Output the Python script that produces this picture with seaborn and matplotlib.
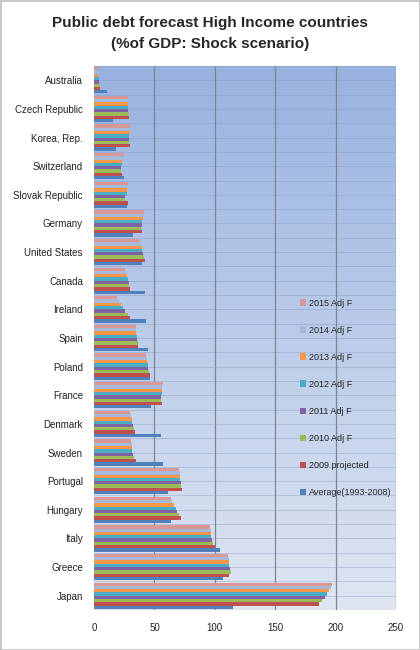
import numpy as np
import pandas as pd
import matplotlib
matplotlib.use("Agg")
import matplotlib.pyplot as plt
import seaborn as sns

# Countries, top to bottom
countries = [
    "Australia", "Czech Republic", "Korea, Rep.", "Switzerland", "Slovak Republic",
    "Germany", "United States", "Canada", "Ireland", "Spain", "Poland", "France",
    "Denmark", "Sweden", "Portugal", "Hungary", "Italy", "Greece", "Japan",
]

# Series (legend order, top to bottom)
series = [
    "2015 Adj F", "2014 Adj F", "2013 Adj F", "2012 Adj F",
    "2011 Adj F", "2010 Adj F", "2009 projected", "Average(1993-2008)",
]

adj_2015 = [3.3, 27.8, 30, 24.4, 28, 41, 38, 26, 19, 35, 43, 57, 30, 30.5, 70.5, 63.6, 95.8, 111, 197]
adj_2014 = [1.2, 28, 29, 23, 27, 41, 39, 27, 21, 35, 44, 56, 30.5, 31, 71, 64.7, 96.4, 111.7, 196]
adj_2013 = [3.3, 28, 30, 23, 27, 40.5, 39.5, 27.5, 22, 35, 44, 56, 31, 31.4, 71, 66, 96.7, 112, 194.7]
adj_2012 = [4, 28, 29, 23, 27, 40, 40, 28, 24, 35.5, 45, 56, 31.7, 31.7, 71.4, 67.5, 97, 112, 193]
adj_2011 = [4, 28, 29, 22.5, 26, 40, 40.5, 29, 26, 35.5, 45, 55.5, 32, 32.5, 71.7, 69, 97.8, 112.8, 191]
adj_2010 = [4.5, 28.5, 28.6, 22, 26, 39, 41.4, 29, 28, 36, 45.5, 55.5, 33, 33, 72, 70, 98.3, 113, 188.6]
proj_2009 = [5, 29, 29.5, 23, 28, 40, 42, 30, 29.5, 36, 46, 56, 34, 35, 72.5, 71.7, 99.7, 112, 186]
average = [11, 16, 18, 24.7, 27, 32, 40, 42, 43, 45, 46, 47.5, 55, 57, 61, 64, 104, 107, 115]

colors = ["#D99795", "#A7B9D9", "#F79646", "#4BACC6", "#8064A2", "#9BBB59", "#C0504D", "#4F81BD"]

values = [adj_2015, adj_2014, adj_2013, adj_2012, adj_2011, adj_2010, proj_2009, average]
rows = []
for s, vals in zip(series, values):
    for c, v in zip(countries, vals):
        rows.append({"country": c, "series": s, "value": v})
df = pd.DataFrame(rows)

sns.set_style("white")
plt.rcParams["font.family"] = ["Liberation Sans", "DejaVu Sans"]

fig = plt.figure(figsize=(4.2, 6.5), dpi=100)
fig.patch.set_edgecolor("#c8c8c8")
fig.patch.set_linewidth(2)
ax = fig.add_axes([0.224, 0.0615, 0.719, 0.837])

# gradient background
grad = np.linspace(0, 1, 256).reshape(-1, 1)
cmap = matplotlib.colors.LinearSegmentedColormap.from_list("bg", ["#98B2E0", "#DFE6F2"])
ax.imshow(grad, cmap=cmap, aspect="auto", extent=[0, 1, 0, 1],
          transform=ax.transAxes, zorder=0)

sns.barplot(data=df, y="country", x="value", hue="series", order=countries,
            hue_order=series, palette=colors, orient="h", width=0.92,
            saturation=1, ax=ax, zorder=3, linewidth=0, legend=True)

ax.set_xlim(0, 250)
ax.set_ylim(len(countries) - 0.5, -0.5)
ax.set_xticks([0, 50, 100, 150, 200, 250])
for x in [50, 100, 150, 200, 250]:
    ax.axvline(x, color="#7f8590", lw=0.9, zorder=2)
# faint horizontal lines
for y in np.arange(-0.5, len(countries), 0.5):
    ax.axhline(y, color="#8497bd", lw=0.6, alpha=0.45, zorder=1)

ax.set_xlabel("")
ax.set_ylabel("")
ax.tick_params(axis="both", length=0, labelsize=7, colors="#222222")
ax.tick_params(axis="y", pad=8)
ax.tick_params(axis="x", pad=9)
for sp in ax.spines.values():
    sp.set_visible(False)

leg = ax.legend(loc="center left", bbox_to_anchor=(0.655, 0.39), frameon=False,
                fontsize=6.5, labelspacing=2.0, handlelength=0.7, handleheight=0.7,
                handletextpad=0.35)

fig.suptitle("Public debt forecast High Income countries\n(%of GDP: Shock scenario)",
             y=0.976, fontsize=11, fontweight="bold", linespacing=1.65)

fig.savefig("out.png", dpi=100)
